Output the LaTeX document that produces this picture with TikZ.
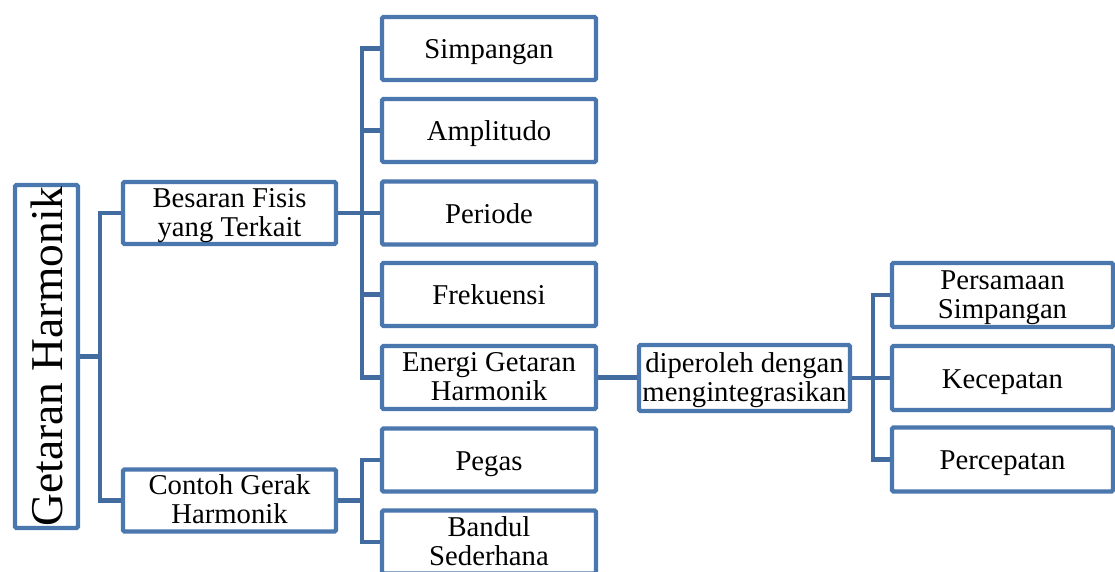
\documentclass[tikz,border=0pt]{standalone}
\usepackage{fontspec}
\setmainfont{Liberation Serif}
\definecolor{boxblue}{RGB}{74,119,174}
\definecolor{linkblue}{RGB}{66,107,160}
\begin{document}
\begin{tikzpicture}[x=1pt,y=-1pt,
  box/.style={draw=boxblue, line width=4.4pt, rounded corners=1.5pt, fill=white,
    inner sep=0pt, align=center, text=black,
    font=\fontsize{28.7}{29}\selectfont},
  one/.style={text height=20pt, text depth=0pt},
  two/.style={text height=49pt, text depth=3pt},
  leaf/.style={box, minimum width=214pt, minimum height=63pt},
  side/.style={box, minimum width=221pt, minimum height=64pt},
  conn/.style={draw=linkblue, line width=4.4pt, line join=miter}]
\useasboundingbox (0,0) rectangle (1115,571);
\clip (0,0) rectangle (1115,571);

% root and first level
\node[box, minimum width=63pt, minimum height=343pt] (get) at (46.5,356.5)
  {\rotatebox{90}{\fontsize{45.5}{46}\selectfont Getaran Harmonik}};
\node[box, two, minimum width=213pt, minimum height=62pt] (bes) at (229.5,213) {Besaran Fisis\\yang Terkait};
\node[box, two, minimum width=213pt, minimum height=62pt] (con) at (229.5,500.5) {Contoh Gerak\\Harmonik};

% physical quantities
\node[leaf, one] (sim) at (489,48.5)  {Simpangan};
\node[leaf, one] (amp) at (489,130.5) {Amplitudo};
\node[leaf, one] (per) at (489,213)   {Periode};
\node[leaf, one] (fre) at (489,294.5) {Frekuensi};
\node[leaf, two] (ene) at (489,377.5) {Energi Getaran\\Harmonik};

% examples
\node[leaf, one] (peg) at (489,460)   {Pegas};
\node[leaf, two] (ban) at (489,542)   {Bandul\\Sederhana};

% integration step
\node[box, two, minimum width=211pt, minimum height=66pt] (dip) at (744.5,378) {diperoleh dengan\\mengintegrasikan};
\node[side, two] (psi) at (1002.5,295)   {Persamaan\\Simpangan};
\node[side, one] (kec) at (1002.5,378)   {Kecepatan};
\node[side, one] (pcp) at (1002.5,459.5) {Percepatan};

% junction points of the tree
\coordinate (t1) at (100,356.5);
\coordinate (t2) at (362,213);
\coordinate (t3) at (362,500.5);
\coordinate (t4) at (873,378);

% connectors
\draw[conn] (get.east) -- (t1);
\draw[conn] (bes.west) -| (t1) |- (con.west);

\draw[conn] (bes.east) -- (t2);
\draw[conn] (sim.west) -| (t2) |- (ene.west);
\draw[conn] (amp.west) -- (amp.west -| t2);
\draw[conn] (per.west) -- (t2);
\draw[conn] (fre.west) -- (fre.west -| t2);

\draw[conn] (con.east) -- (t3);
\draw[conn] (peg.west) -| (t3) |- (ban.west);

\draw[conn] (ene.east) -- (dip.west |- ene.east);

\draw[conn] (dip.east) -- (kec.west);
\draw[conn] (psi.west) -| (t4) |- (pcp.west);
\end{tikzpicture}
\end{document}
